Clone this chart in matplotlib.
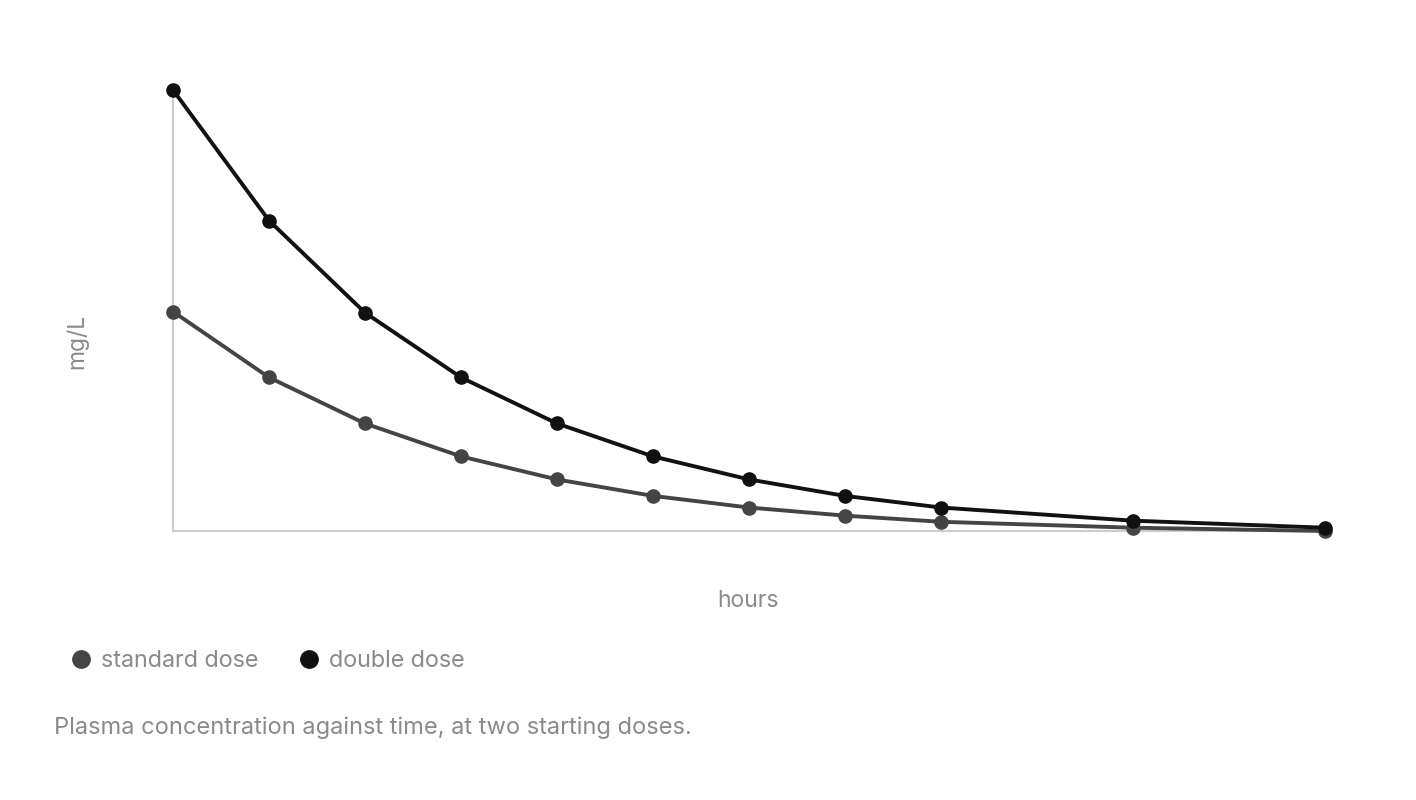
import matplotlib.pyplot as plt
from matplotlib.lines import Line2D

hours = [0, 1, 2, 3, 4, 5, 6, 7, 8, 10, 12]
standard = [10.0, 7.0, 4.9, 3.4, 2.35, 1.6, 1.07, 0.7, 0.42, 0.15, 0.0]
double = [20.1, 14.15, 9.95, 7.0, 4.9, 3.4, 2.35, 1.6, 1.07, 0.47, 0.15]

labels = ["standard dose", "double dose"]
colors = ["#444444", "#111111"]
caption = "Plasma concentration against time, at two starting doses."

plt.rcParams['font.family'] = ['Inter', 'DejaVu Sans']
W, H = 1416, 800
fig = plt.figure(figsize=(W / 100, H / 100), dpi=100)
ax = fig.add_axes([173 / W, 1 - 531 / H, (1325 - 173) / W, (531 - 90) / H])

for ys, c in zip([standard, double], colors):
    ax.plot(hours, ys, color=c, lw=2.8, marker='o', ms=9.5, clip_on=False, zorder=3)

ax.set_xlim(0, 12)
ax.set_ylim(0, 20.1)
ax.set_xticks([])
ax.set_yticks([])
for s in ['top', 'right']:
    ax.spines[s].set_visible(False)
for s in ['left', 'bottom']:
    ax.spines[s].set_color('#cccccc')
    ax.spines[s].set_linewidth(1.5)

grey = '#8a8a8a'
fig.text(77 / W, 1 - 341 / H, "mg/L", rotation=90, ha='center', va='center', color=grey, fontsize=16.5)
fig.text(748 / W, 1 - 601 / H, "hours", ha='center', va='center', color=grey, fontsize=16.5)

handles = [Line2D([], [], ls='none', marker='o', ms=12.5, color=c) for c in colors]
fig.legend(handles, labels, loc='center left', bbox_to_anchor=(58 / W, 1 - 661 / H),
           ncol=2, frameon=False, fontsize=16.8, labelcolor=grey, handletextpad=0.35,
           columnspacing=1.65, handlelength=1.0, borderpad=0)

fig.text(54 / W, 1 - 728 / H, caption, ha='left', va='center', color=grey, fontsize=17)

fig.savefig("out.png", dpi=100)
